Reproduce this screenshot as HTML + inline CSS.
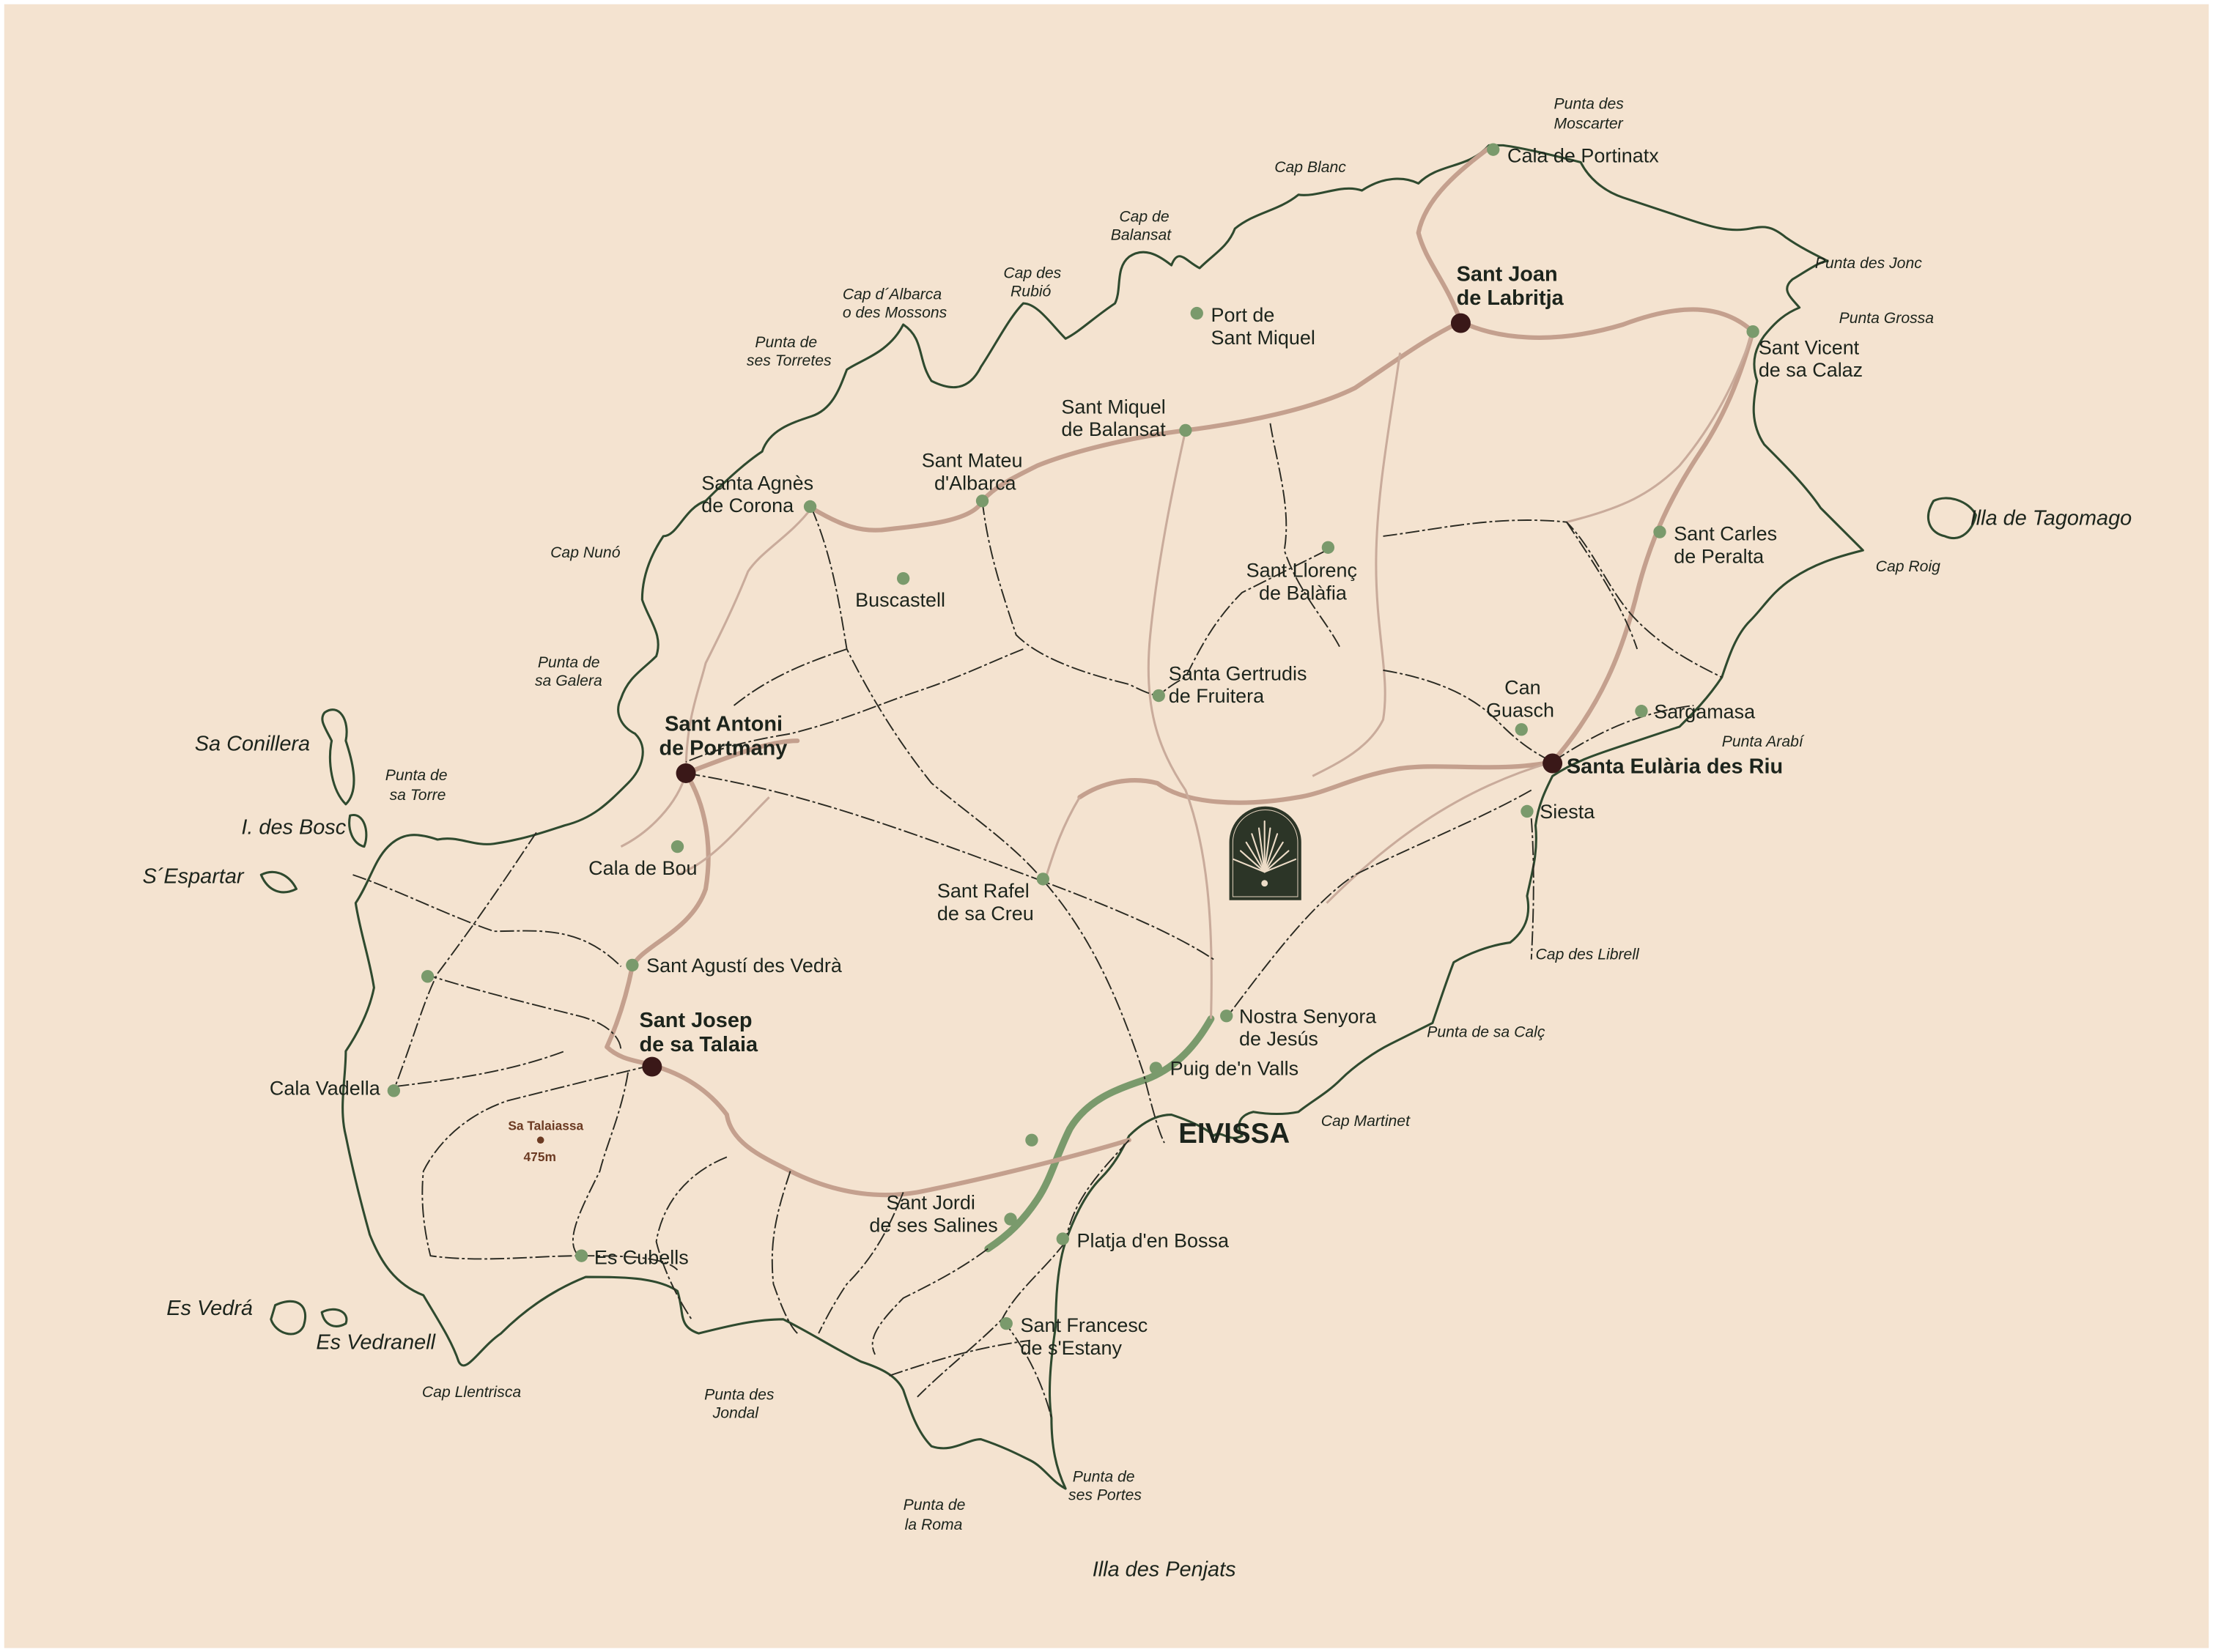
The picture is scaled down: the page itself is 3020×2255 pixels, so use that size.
<!DOCTYPE html>
<html><head><meta charset="utf-8"><style>
html,body{margin:0;padding:0;background:#fff;}
svg{display:block}
text{font-family:"Liberation Sans",sans-serif;fill:#1c241c}
.t{font-size:14px}
.b{font-size:15px;font-weight:bold}
.c{font-size:11px;font-style:italic}
.i{font-size:15px;font-style:italic}
.r{fill:none;stroke:#c4a08e;stroke-width:3.2;stroke-linecap:round;stroke-linejoin:round}
.r2{fill:none;stroke:#c9ab9b;stroke-width:1.6}
.d{fill:none;stroke:#2a2a22;stroke-width:1;stroke-dasharray:10 2 2 2}
.k{fill:none;stroke:#2f4a2f;stroke-width:1.6;stroke-linejoin:round}
.g{fill:#7a9a6c}
.m{fill:#3a1818}
</style></head><body>
<svg width="3020" height="2255" viewBox="0 0 1568 1170.8" xmlns="http://www.w3.org/2000/svg">
<rect x="0" y="0" width="1568" height="1171" fill="#fff"/>
<rect x="3" y="3" width="1562" height="1165" fill="#f4e3d0"/>

<!-- coastline -->
<path class="k" d="M1055,103 C1040,120 1020,115 1005,130 C995,125 980,125 965,135 C950,130 935,140 920,138 C905,150 890,150 875,162 C870,175 860,180 850,190 C840,185 835,175 830,188 C820,180 810,175 800,182 C790,190 795,205 790,215 C775,225 765,235 755,240 C745,230 735,215 725,215 C715,225 705,245 695,260 C685,280 670,275 660,270 C650,255 655,240 640,230 C630,250 610,255 600,262 C595,275 590,290 575,295 C560,300 545,305 540,320 C525,330 510,345 500,355 C485,360 480,380 470,380 C460,395 455,410 455,425 C460,440 470,450 465,465 C455,475 445,480 440,495 C435,505 440,515 450,520 C460,530 455,545 445,555 C430,570 420,580 400,585 C385,590 370,595 350,598 C335,600 325,592 310,595 C295,590 285,590 275,600 C265,610 262,625 252,640 C255,660 262,680 265,700 C262,715 255,730 245,745 C245,765 240,785 245,805 C250,830 255,850 262,875 C270,895 280,910 300,918 C310,935 320,950 325,965 C330,975 340,955 355,945 C370,930 390,915 415,905 C440,905 465,905 480,915 C485,930 480,940 495,945 C515,940 535,935 555,935 C575,945 590,955 610,965 C625,970 635,975 640,985 C645,1000 650,1015 660,1025 C675,1030 685,1020 695,1020 C710,1025 720,1030 730,1035 C740,1040 745,1050 755,1055 C748,1040 745,1025 745,1005 C742,985 745,960 748,940 C748,915 750,895 755,880 C762,860 770,845 780,835 C790,825 795,815 800,805 C810,795 820,790 830,790 C845,795 855,800 860,805 C865,800 870,810 880,805 C875,795 880,790 888,788 C900,790 910,790 920,788 C930,780 940,775 950,765 C960,755 975,745 985,740 C995,735 1005,730 1015,725 C1020,710 1025,695 1030,682 C1040,676 1055,670 1070,668 C1080,660 1085,650 1082,635 C1085,620 1090,605 1088,585 C1090,570 1095,560 1100,550 C1115,540 1130,535 1145,530 C1160,525 1175,520 1190,515 C1200,505 1210,495 1220,480 C1225,465 1230,450 1240,440 C1250,430 1255,420 1270,410 C1285,400 1300,395 1320,390 C1310,380 1300,370 1290,360 C1280,345 1265,330 1250,315 C1240,300 1242,285 1245,270 C1240,255 1245,245 1250,238 C1258,228 1265,222 1275,218 C1268,210 1262,205 1270,198 C1280,192 1290,185 1295,185 C1285,180 1275,175 1265,168 C1255,160 1250,160 1240,162 C1225,165 1210,160 1195,155 C1180,150 1165,145 1150,140 C1135,135 1125,125 1120,115 C1100,110 1080,105 1065,103 Z"/>
<!-- islets -->
<path class="k" d="M1370,355 C1380,350 1395,355 1400,365 C1398,375 1390,385 1378,380 C1368,378 1362,368 1370,355 Z" stroke-width="1"/>
<path class="k" d="M230,505 C240,498 248,510 245,525 C250,540 255,560 245,570 C235,560 232,540 235,525 C230,515 226,510 230,505 Z" stroke-width="1"/>
<path class="k" d="M248,578 C258,575 262,590 258,600 C250,598 246,588 248,578 Z" stroke-width="1"/>
<path class="k" d="M185,620 C195,615 205,620 210,630 C200,635 190,632 185,620 Z" stroke-width="1"/>
<path class="k" d="M195,925 C210,918 220,925 215,940 C210,950 195,945 192,935 Z" stroke-width="1"/>
<path class="k" d="M228,930 C238,925 248,930 245,938 C238,942 230,940 228,930 Z" stroke-width="1"/>

<!-- green airport road -->
<path d="M858,722 C845,745 830,758 812,765 C790,772 770,780 758,800 C748,820 745,835 735,850 C725,865 715,875 700,885" fill="none" stroke="#7a9a6c" stroke-width="5" stroke-linecap="round"/>

<!-- main roads -->
<g class="r">
<path d="M1035,228 C1010,240 990,255 960,275 C930,290 880,300 840,305 C800,310 760,320 735,330 C715,340 705,345 696,355 C690,368 660,372 630,375 C610,378 595,372 575,360"/>
<path d="M1035,228 C1060,240 1100,245 1150,230 C1190,215 1220,215 1242,235 C1235,260 1225,290 1205,320 C1185,350 1170,380 1160,420 C1150,460 1135,500 1100,540"/>
<path d="M1035,228 C1025,200 1010,185 1005,165 C1010,140 1035,120 1055,105"/>
<path d="M1100,540 C1060,548 1020,540 990,545 C960,550 940,562 920,565 C880,572 840,570 820,555 C800,550 780,555 765,565"/>
<path d="M486,548 C500,570 505,600 500,630 C490,660 455,670 448,685 C445,700 440,720 430,742 C440,752 455,752 462,755 C480,760 500,770 515,790 C518,810 540,820 560,830 C590,845 620,850 650,845 C700,835 760,820 800,808"/>
<path d="M486,548 C520,535 545,525 565,525"/>
</g>
<g class="r2">
<path d="M1242,235 C1230,270 1215,300 1190,330 C1170,350 1150,360 1110,370"/>
<path d="M575,360 C560,380 540,390 530,405 C520,430 510,450 500,470 C495,490 486,510 486,548"/>
<path d="M840,305 C830,350 820,400 815,450 C810,500 820,530 840,560 C855,600 860,650 858,722"/>
<path d="M992,250 C985,300 975,350 975,400 C975,450 985,480 980,510 C970,530 950,540 930,550"/>
<path d="M940,640 C980,600 1030,560 1100,540"/>
<path d="M486,548 C480,570 460,590 440,600"/>
<path d="M545,565 C520,590 505,610 480,620"/>
<path d="M765,565 C750,590 745,610 740,625"/>
</g>

<!-- thin dashed roads -->
<g class="d">
<path d="M575,360 C590,395 595,430 600,460 C620,500 640,530 660,555 C690,580 720,600 740,625"/>
<path d="M696,355 C700,390 710,420 720,450 C740,470 780,480 800,485 C810,490 815,492 820,493"/>
<path d="M486,548 C560,560 620,580 740,625 C780,640 830,660 860,680"/>
<path d="M740,625 C770,660 790,700 810,760 C815,780 820,800 825,810"/>
<path d="M725,460 C700,470 680,480 650,490 C620,500 600,510 560,520 C530,525 510,530 486,540"/>
<path d="M600,460 C570,470 545,480 520,500"/>
<path d="M940,390 C920,400 900,410 880,420 C860,440 850,460 840,480 C830,485 825,490 820,493"/>
<path d="M900,300 C905,330 915,360 910,390 C920,420 940,440 950,460"/>
<path d="M980,380 C1020,375 1060,365 1110,370 C1130,390 1140,420 1160,440 C1180,460 1200,470 1220,480"/>
<path d="M1110,370 C1130,400 1150,430 1160,460"/>
<path d="M980,475 C1010,480 1040,490 1060,510 C1070,520 1080,530 1100,540"/>
<path d="M1100,540 C1130,520 1160,505 1200,500"/>
<path d="M1085,560 C1050,580 1000,600 960,620 C930,640 900,680 870,720"/>
<path d="M1085,580 C1088,620 1086,660 1085,680"/>
<path d="M380,590 C360,620 340,650 310,690 C300,710 295,730 280,770"/>
<path d="M250,620 C280,630 320,650 350,660 C380,660 410,655 440,685"/>
<path d="M300,690 C330,700 370,710 410,720 C430,725 440,735 440,745"/>
<path d="M280,770 C320,765 360,760 400,745"/>
<path d="M462,755 C440,760 400,770 360,780 C330,790 310,810 300,830 C298,850 300,870 305,890 C340,895 380,890 410,890 C440,890 470,890 480,900"/>
<path d="M445,760 C440,790 430,810 425,830 C410,860 400,880 410,890"/>
<path d="M515,820 C490,830 470,850 465,880 C470,900 480,920 490,935"/>
<path d="M560,830 C550,860 545,880 548,910 C555,930 560,940 565,945"/>
<path d="M640,845 C630,870 620,890 600,910 C590,925 585,935 580,945"/>
<path d="M700,885 C680,900 660,910 640,920 C620,940 615,950 620,960"/>
<path d="M755,880 C740,900 720,915 710,935 C690,955 670,970 650,990"/>
<path d="M710,935 C730,960 740,985 745,1005"/>
<path d="M800,808 C780,830 760,850 755,880"/>
<path d="M630,975 C660,965 690,955 730,950"/>
</g>

<!-- logo -->
<path d="M871,638 L871,597 A25.5,25.5 0 0 1 922,597 L922,638 Z" fill="#2c3527"/>
<path d="M873.5,635.5 L873.5,597 A23,23 0 0 1 919.5,597 L919.5,635.5 Z" fill="none" stroke="#e8d6c2" stroke-width="0.5"/>
<g stroke="#eddcc7" stroke-width="1.1" stroke-linecap="round">
<line x1="896" y1="618" x2="896" y2="582"/>
<line x1="896" y1="618" x2="892" y2="587"/><line x1="896" y1="618" x2="900" y2="587"/>
<line x1="896" y1="618" x2="887" y2="591"/><line x1="896" y1="618" x2="905" y2="591"/>
<line x1="896" y1="618" x2="883" y2="597"/><line x1="896" y1="618" x2="909" y2="597"/>
<line x1="896" y1="618" x2="879" y2="603"/><line x1="896" y1="618" x2="913" y2="603"/>
<line x1="896" y1="618" x2="874" y2="609"/><line x1="896" y1="618" x2="918" y2="609"/>
</g>
<circle cx="896" cy="626" r="2.3" fill="#eddcc7"/>

<!-- dots -->
<g class="g">
<circle cx="1058" cy="106" r="4.5"/><circle cx="848" cy="222" r="4.5"/><circle cx="1242" cy="235" r="4.5"/>
<circle cx="840" cy="305" r="4.5"/><circle cx="696" cy="355" r="4.5"/><circle cx="574" cy="359" r="4.5"/>
<circle cx="640" cy="410" r="4.5"/><circle cx="941" cy="388" r="4.5"/><circle cx="1176" cy="377" r="4.5"/>
<circle cx="821" cy="493" r="4.5"/><circle cx="1078" cy="517" r="4.5"/><circle cx="1163" cy="504" r="4.5"/>
<circle cx="1082" cy="575" r="4.5"/><circle cx="480" cy="600" r="4.5"/><circle cx="739" cy="623" r="4.5"/>
<circle cx="303" cy="692" r="4.5"/><circle cx="448" cy="684" r="4.5"/><circle cx="869" cy="720" r="4.5"/>
<circle cx="819" cy="757" r="4.5"/><circle cx="279" cy="773" r="4.5"/><circle cx="731" cy="808" r="4.5"/>
<circle cx="716" cy="864" r="4.5"/><circle cx="753" cy="878" r="4.5"/><circle cx="412" cy="890" r="4.5"/>
<circle cx="713" cy="938" r="4.5"/>
</g>
<g class="m">
<circle cx="1035" cy="229" r="7"/><circle cx="486" cy="548" r="7"/><circle cx="1100" cy="541" r="7"/><circle cx="462" cy="756" r="7"/>
<circle cx="383" cy="808" r="2.5" fill="#6b3a22"/>
</g>

<!-- labels -->
<g class="t">
<text x="1068" y="115">Cala de Portinatx</text>
<text x="858" y="228">Port de</text><text x="858" y="244">Sant Miquel</text>
<text x="1246" y="251">Sant Vicent</text><text x="1246" y="267">de sa Calaz</text>
<text x="752" y="293">Sant Miquel</text><text x="752" y="309">de Balansat</text>
<text x="653" y="331">Sant Mateu</text><text x="662" y="347">d'Albarca</text>
<text x="497" y="347">Santa Agnès</text><text x="497" y="363">de Corona</text>
<text x="606" y="430">Buscastell</text>
<text x="883" y="409">Sant Llorenç</text><text x="892" y="425">de Balàfia</text>
<text x="1186" y="383">Sant Carles</text><text x="1186" y="399">de Peralta</text>
<text x="828" y="482">Santa Gertrudis</text><text x="828" y="498">de Fruitera</text>
<text x="1066" y="492">Can</text><text x="1053" y="508">Guasch</text>
<text x="1172" y="509">Sargamasa</text>
<text x="1091" y="580">Siesta</text>
<text x="417" y="620">Cala de Bou</text>
<text x="664" y="636">Sant Rafel</text><text x="664" y="652">de sa Creu</text>
<text x="458" y="689">Sant Agustí des Vedrà</text>
<text x="878" y="725">Nostra Senyora</text><text x="878" y="741">de Jesús</text>
<text x="829" y="762">Puig de'n Valls</text>
<text x="191" y="776">Cala Vadella</text>
<text x="628" y="857">Sant Jordi</text><text x="616" y="873">de ses Salines</text>
<text x="763" y="884">Platja d'en Bossa</text>
<text x="421" y="896">Es Cubells</text>
<text x="723" y="944">Sant Francesc</text><text x="723" y="960">de s'Estany</text>
</g>
<g class="b">
<text x="1032" y="199">Sant Joan</text><text x="1032" y="216">de Labritja</text>
<text x="471" y="518">Sant Antoni</text><text x="467" y="535">de Portmany</text>
<text x="1110" y="548">Santa Eulària des Riu</text>
<text x="453" y="728">Sant Josep</text><text x="453" y="745">de sa Talaia</text>
<text x="835" y="810" style="font-size:20px">EIVISSA</text>
</g>
<text x="360" y="801" style="font-size:9px;font-weight:bold;fill:#6b3a22">Sa Talaiassa</text>
<text x="371" y="823" style="font-size:9px;font-weight:bold;fill:#6b3a22">475m</text>
<g class="c">
<text x="1101" y="77">Punta des</text><text x="1101" y="91">Moscarter</text>
<text x="903" y="122">Cap Blanc</text>
<text x="793" y="157">Cap de</text><text x="787" y="170">Balansat</text>
<text x="711" y="197">Cap des</text><text x="716" y="210">Rubió</text>
<text x="597" y="212">Cap d´Albarca</text><text x="597" y="225">o des Mossons</text>
<text x="535" y="246">Punta de</text><text x="529" y="259">ses Torretes</text>
<text x="1286" y="190">Punta des Jonc</text>
<text x="1303" y="229">Punta Grossa</text>
<text x="390" y="395">Cap Nunó</text>
<text x="1329" y="405">Cap Roig</text>
<text x="381" y="473">Punta de</text><text x="379" y="486">sa Galera</text>
<text x="1220" y="529">Punta Arabí</text>
<text x="273" y="553">Punta de</text><text x="276" y="567">sa Torre</text>
<text x="1088" y="680">Cap des Librell</text>
<text x="1011" y="735">Punta de sa Calç</text>
<text x="936" y="798">Cap Martinet</text>
<text x="299" y="990">Cap Llentrisca</text>
<text x="499" y="992">Punta des</text><text x="505" y="1005">Jondal</text>
<text x="760" y="1050">Punta de</text><text x="757" y="1063">ses Portes</text>
<text x="640" y="1070">Punta de</text><text x="641" y="1084">la Roma</text>
</g>
<g class="i">
<text x="1396" y="372">Illa de Tagomago</text>
<text x="138" y="532">Sa Conillera</text>
<text x="171" y="591">I. des Bosc</text>
<text x="101" y="626">S´Espartar</text>
<text x="118" y="932">Es Vedrá</text>
<text x="224" y="956">Es Vedranell</text>
<text x="774" y="1117">Illa des Penjats</text>
</g>
</svg>
</body></html>
